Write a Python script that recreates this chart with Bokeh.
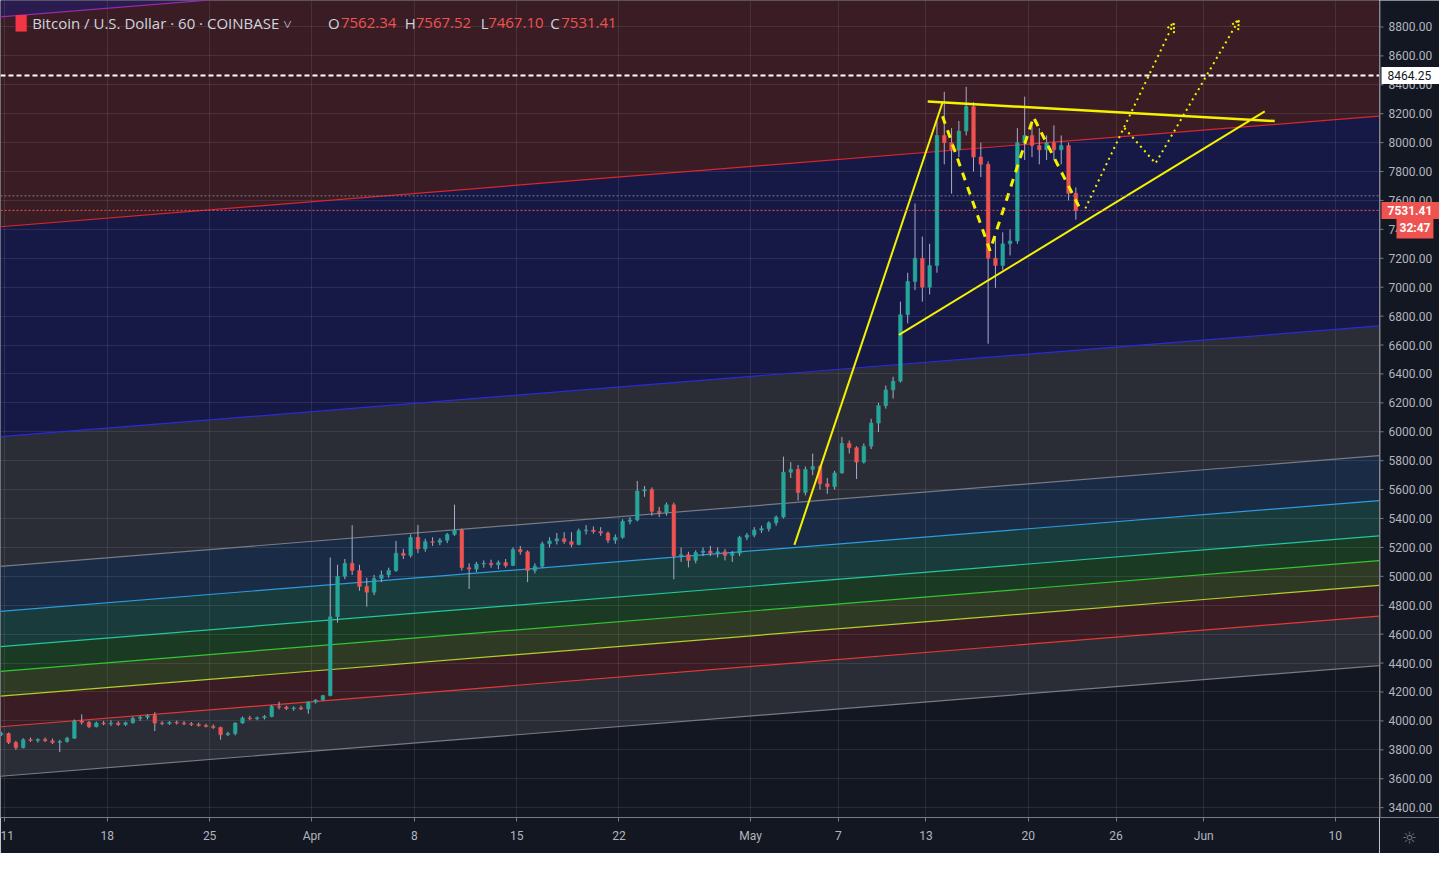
import numpy as np
from bokeh.plotting import figure
from bokeh.layouts import row
from bokeh.models import (Range1d, FixedTicker, Label, Span, ColumnDataSource, Arrow, OpenHead)
from bokeh.core.properties import value
from bokeh.embed import file_html
from bokeh.resources import INLINE

# ---------------- data (x = days since 2019-03-11 00:00 UTC) ----------------
bar_days = 0.5            # 12h candles
first_bar_center = -0.25  # first candle centre

candle_open = [
    3905, 3912, 3850, 3815, 3870, 3865, 3872, 3862, 3850, 3858,
    3880, 4000, 3990, 3960, 3985, 3980, 3985, 3975, 3988, 4018,
    4025, 4038, 3985, 3982, 3990, 3985, 3980, 3975, 3968, 3962,
    3955, 3905, 3912, 3985, 4020, 4015, 4022, 4030, 4100, 4095,
    4085, 4090, 4082, 4130, 4145, 4175, 4720, 5000, 5090, 5040,
    4930, 4890, 4985, 5010, 5040, 5160, 5145, 5270, 5190, 5240,
    5235, 5250, 5290, 5320, 5060, 5050, 5085, 5090, 5080, 5095,
    5075, 5185, 5170, 5040, 5070, 5225, 5245, 5260, 5240, 5220,
    5315, 5320, 5310, 5300, 5250, 5270, 5380, 5390, 5590, 5600,
    5450, 5440, 5495, 5140, 5150, 5110, 5165, 5175, 5160, 5170,
    5145, 5160, 5270, 5285, 5320, 5330, 5370, 5410, 5720, 5740,
    5580, 5740, 5760, 5640, 5620, 5715, 5920, 5890, 5790, 5900,
    6060, 6180, 6290, 6350, 6810, 7040, 7200, 7000, 7150, 8050,
    8000, 7950, 8080, 8250, 7900, 7850, 7200, 7150, 7300, 7320,
    8000, 8050, 7980, 7950, 8000, 7950, 7980, 7650]
candle_high = [
    3925, 3920, 3862, 3880, 3885, 3880, 3885, 3878, 3870, 3890,
    4010, 4045, 4000, 3995, 4000, 4005, 3998, 3995, 4030, 4035,
    4045, 4060, 3998, 3998, 4002, 3998, 3992, 3988, 3980, 3975,
    3960, 3925, 3990, 4030, 4035, 4030, 4040, 4110, 4133, 4105,
    4100, 4105, 4135, 4150, 4180, 5130, 5080, 5120, 5354, 5080,
    4990, 5010, 5040, 5060, 5245, 5190, 5290, 5355, 5260, 5270,
    5265, 5300, 5496, 5330, 5090, 5100, 5110, 5115, 5110, 5120,
    5200, 5210, 5180, 5090, 5240, 5270, 5300, 5305, 5305, 5330,
    5354, 5345, 5340, 5310, 5290, 5395, 5410, 5660, 5625, 5615,
    5480, 5510, 5510, 5200, 5170, 5180, 5200, 5210, 5200, 5190,
    5175, 5280, 5300, 5340, 5350, 5380, 5420, 5828, 5790, 5770,
    5760, 5849, 5770, 5680, 5730, 5964, 5940, 5900, 5920, 6090,
    6200, 6320, 6380, 6900, 7100, 7579, 7350, 7300, 8150, 8352,
    8100, 8150, 8386, 8280, 8000, 7870, 7350, 7380, 7400, 8100,
    8318, 8150, 8100, 8050, 8120, 8050, 8000, 7690]
candle_low = [
    3895, 3840, 3800, 3810, 3855, 3850, 3855, 3840, 3785, 3850,
    3875, 3975, 3950, 3955, 3970, 3965, 3965, 3965, 3980, 4000,
    4010, 3930, 3970, 3972, 3975, 3970, 3965, 3960, 3955, 3945,
    3870, 3895, 3900, 3980, 4005, 4005, 4010, 4025, 4080, 4075,
    4070, 4075, 4050, 4120, 4140, 4170, 4680, 4980, 5010, 4900,
    4790, 4870, 4960, 4990, 5030, 5120, 5130, 5160, 5170, 5210,
    5215, 5230, 5280, 5040, 4913, 5030, 5060, 5060, 5050, 5060,
    5070, 5150, 4960, 5020, 5060, 5200, 5220, 5225, 5200, 5215,
    5290, 5295, 5280, 5230, 5225, 5260, 5360, 5380, 5550, 5420,
    5410, 5420, 4980, 5100, 5062, 5090, 5140, 5140, 5130, 5110,
    5100, 5140, 5250, 5270, 5300, 5310, 5350, 5400, 5680, 5524,
    5560, 5700, 5600, 5571, 5600, 5710, 5850, 5673, 5780, 5880,
    5998, 6160, 6230, 6340, 6750, 6980, 6900, 6950, 7100, 7850,
    7647, 7900, 8050, 7800, 7762, 6609, 6996, 7120, 7220, 7300,
    7880, 7900, 7850, 7880, 7880, 7850, 7600, 7467]
candle_close = [
    3912, 3850, 3815, 3870, 3865, 3872, 3862, 3850, 3858, 3880,
    4000, 3990, 3960, 3985, 3980, 3985, 3975, 3988, 4018, 4025,
    4038, 3985, 3982, 3990, 3985, 3980, 3975, 3968, 3962, 3955,
    3905, 3912, 3985, 4020, 4015, 4022, 4030, 4100, 4095, 4085,
    4090, 4082, 4130, 4145, 4175, 4720, 5000, 5090, 5040, 4930,
    4890, 4985, 5010, 5040, 5160, 5145, 5270, 5190, 5240, 5235,
    5250, 5290, 5320, 5060, 5050, 5085, 5090, 5080, 5095, 5075,
    5185, 5170, 5040, 5070, 5225, 5245, 5260, 5240, 5220, 5315,
    5320, 5310, 5300, 5250, 5270, 5380, 5390, 5590, 5600, 5450,
    5440, 5495, 5140, 5150, 5110, 5165, 5175, 5160, 5170, 5145,
    5160, 5270, 5285, 5320, 5330, 5370, 5410, 5720, 5740, 5580,
    5740, 5760, 5640, 5620, 5715, 5920, 5890, 5790, 5900, 6060,
    6180, 6290, 6350, 6810, 7040, 7200, 7000, 7150, 8050, 8000,
    7950, 8080, 8250, 7900, 7850, 7200, 7150, 7300, 7320, 8000,
    8050, 7980, 7950, 8000, 7950, 7980, 7650, 7531.41]

# Fibonacci channel (levels, colours)
fib_levels = [0, 0.236, 0.382, 0.5, 0.618, 0.786, 1, 1.618, 2.618, 3.618, 4.236]
fib_line_colors = ["#787b86", "#e53935", "#b3d02a", "#33c733", "#22c99b",
                   "#2e9be0", "#787b86", "#2b2bd6", "#d9262f", "#9c27b0", "#e91e63"]
fib_fill_colors = ["#2a2d36", "#391c24", "#2e3a24", "#1a3a24", "#193b3c",
                   "#1a2b45", "#2a2d36", "#161945", "#391c24", "#2b1c4f"]
channel_day = [-0.304, 94.02]
channel_base_price = [3617, 4383]
channel_width = 1452

# axes
xtick_days = [0, 7, 14, 21, 28, 35, 42, 51, 57, 63, 70, 76, 82, 91]
xtick_labels = ["11", "18", "25", "Apr", "8", "15", "22", "May", "7", "13",
                "20", "26", "Jun", "10"]
ytick_prices = list(range(3400, 9000, 200))

# price lines
hline_price = 8464.25
last_price = 7531.41
prev_close_price = 7632
countdown_text = "32:47"
ohlc_open, ohlc_high, ohlc_low, ohlc_close = "7562.34", "7567.52", "7467.10", "7531.41"
symbol_title = "Bitcoin / U.S. Dollar · 60 · COINBASE ˅"

# drawings (day, price)
leg_day = [54.0, 64.13];        leg_price = [5218, 8278]
upper_day = [63.12, 86.85];     upper_price = [8284, 8149]
lower_day = [61.15, 86.17];     lower_price = [6670, 8216]
zigzag_day = [64.13, 67.38, 70.35, 73.6]
zigzag_price = [8183, 7253, 8176, 7531]
path_a_day = [73.9, 79.95];     path_a_price = [7545, 8827]
path_b_day = [76.57, 78.7, 84.4]; path_b_price = [8101, 7857, 8848]

# ---------------- figure ----------------
FONT = "Roboto"
BG = "#131722"
AXC = "#787b86"
x_lo, x_hi = -0.304, 94.02
y_lo, y_hi = 3331.8, 8983.2
H = 853
BOTTOM = 36
SCALE_W = 60
yr = Range1d(y_lo, y_hi)

p = figure(width=1439 - SCALE_W, height=H, x_range=Range1d(x_lo, x_hi), y_range=yr,
           y_axis_location=None, output_backend="svg", toolbar_location=None,
           min_border_left=0, min_border_top=0, min_border_right=0, min_border_bottom=BOTTOM,
           background_fill_color=BG, border_fill_color=BG, outline_line_color=None)

# channel fills and lines
xs_b, ys_b = [], []
for i in range(len(fib_levels) - 1):
    a, b = fib_levels[i], fib_levels[i + 1]
    xs_b.append([channel_day[0], channel_day[1], channel_day[1], channel_day[0]])
    ys_b.append([channel_base_price[0] + a * channel_width, channel_base_price[1] + a * channel_width,
                 channel_base_price[1] + b * channel_width, channel_base_price[0] + b * channel_width])
p.patches(xs_b, ys_b, fill_color=fib_fill_colors, line_color=None, level="image")
xs_l = [channel_day for _ in fib_levels]
ys_l = [[channel_base_price[0] + L * channel_width, channel_base_price[1] + L * channel_width]
        for L in fib_levels]
p.multi_line(xs_l, ys_l, line_color=fib_line_colors, line_width=1.2)

# grid
p.xgrid.ticker = FixedTicker(ticks=xtick_days)
p.ygrid.ticker = FixedTicker(ticks=ytick_prices)
p.grid.grid_line_color = "#ffffff"
p.grid.grid_line_alpha = 0.09
p.grid.level = "underlay"

# x axis
p.xaxis.ticker = FixedTicker(ticks=xtick_days)
p.xaxis.major_label_overrides = dict(zip(xtick_days, xtick_labels))
for ax in (p.xaxis,):
    ax.axis_line_color = AXC
    ax.major_tick_line_color = AXC
    ax.major_tick_in = 0
    ax.major_tick_out = 4
    ax.minor_tick_line_color = None
    ax.major_label_text_color = "#b2b5be"
    ax.major_label_text_font = FONT
    ax.major_label_text_font_size = "12px"
    ax.major_label_standoff = 7

# previous close & last price lines
p.add_layout(Span(location=prev_close_price, dimension="width", line_color=AXC,
                  line_width=1, line_dash="2 2"))
p.add_layout(Span(location=last_price, dimension="width", line_color="#ef5350",
                  line_width=1, line_dash="2 2"))

# candles
n = len(candle_close)
xc = first_bar_center + bar_days * np.arange(n)
up = [c >= o for o, c in zip(candle_open, candle_close)]
src = ColumnDataSource(dict(
    x=xc, high=candle_high, low=candle_low,
    top=[max(o, c) for o, c in zip(candle_open, candle_close)],
    bottom=[min(o, c) for o, c in zip(candle_open, candle_close)],
    color=["#26a69a" if u else "#ef5350" for u in up]))
p.segment(x0="x", y0="low", x1="x", y1="high", source=src, line_color="#a9abc8", line_width=1)
p.vbar(x="x", width=bar_days * 0.5, top="top", bottom="bottom", source=src,
       fill_color="color", line_color="color", line_width=0.5)

# horizontal line drawing
p.add_layout(Span(location=hline_price, dimension="width", line_color="#ffffff",
                  line_width=2, line_dash="5 3"))

# yellow drawings
YEL = "#f5f200"
p.line(leg_day, leg_price, line_color=YEL, line_width=2)
p.line(upper_day, upper_price, line_color=YEL, line_width=2.5)
p.line(lower_day, lower_price, line_color=YEL, line_width=2)
p.line(zigzag_day, zigzag_price, line_color=YEL, line_width=3, line_dash="8 7")
p.line(path_a_day, path_a_price, line_color=YEL, line_width=2, line_dash="2 4")
p.line(path_b_day, path_b_price, line_color=YEL, line_width=2, line_dash="2 4")
for dd, pp in ((path_a_day, path_a_price), (path_b_day, path_b_price)):
    p.add_layout(Arrow(end=OpenHead(size=9, line_color=YEL, line_width=2, line_dash="2 2"),
                       x_start=dd[-2], y_start=pp[-2], x_end=dd[-1], y_end=pp[-1],
                       line_alpha=0))

# title
title_y = 8826
def lab(x, text, color, size="15px", font="Open Sans"):
    p.add_layout(Label(x=x, y=title_y, text=text, text_color=color, text_font=font,
                       text_font_size=size, text_baseline="middle"))
lab(0.72, "\u2588", "#f23645", size="14px", font="DejaVu Sans")
lab(1.86, symbol_title, "#d1d4dc")
lab(22.1, "O", "#d1d4dc"); lab(22.98, ohlc_open, "#ef5350")
lab(27.35, "H", "#d1d4dc"); lab(28.1, ohlc_high, "#ef5350")
lab(32.55, "L", "#d1d4dc"); lab(33.05, ohlc_low, "#ef5350")
lab(37.3, "C", "#d1d4dc"); lab(38.05, ohlc_close, "#ef5350")

# ---------------- price scale (right) ----------------
s = figure(width=SCALE_W, height=H, x_range=Range1d(0, SCALE_W), y_range=yr,
           y_axis_location=None, output_backend="svg", toolbar_location=None,
           min_border_left=0, min_border_top=0, min_border_right=0, min_border_bottom=BOTTOM,
           background_fill_color=BG, border_fill_color=BG, outline_line_color=None)
s.grid.visible = False
s.add_layout(Span(location=0.5, dimension="height", line_color=AXC, line_width=1))
s.segment(x0=[0] * len(ytick_prices), y0=ytick_prices, x1=[4] * len(ytick_prices),
          y1=ytick_prices, line_color=AXC, line_width=1)
s.text(x=[9] * len(ytick_prices), y=ytick_prices, text=[f"{v:.2f}" for v in ytick_prices],
       text_color="#b2b5be", text_font=value(FONT), text_font_size="12px",
       text_baseline="middle", text_align="left")
# price boxes
s.rect(x=[SCALE_W / 2 + 1], y=[hline_price], width=SCALE_W - 2, height=17,
       height_units="screen", fill_color="#ffffff", line_color=None)
s.text(x=[8], y=[hline_price], text=["8464.25"], text_color="#131722", text_font=value(FONT),
       text_font_size="12px", text_baseline="middle", text_align="left")
s.rect(x=[SCALE_W / 2 + 1], y=[last_price], width=SCALE_W - 2, height=17,
       height_units="screen", fill_color="#ef5350", line_color=None)
s.text(x=[8], y=[last_price], text=[ohlc_close], text_color="#ffffff", text_font=value(FONT),
       text_font_size="12px", text_font_style="bold", text_baseline="middle", text_align="left")
s.add_layout(Label(x=17, y=last_price, y_offset=-18, text=countdown_text, text_color="#ffffff",
                   background_fill_color="#ef5350", text_font=FONT, text_font_size="12px",
                   text_font_style="bold", text_baseline="middle", padding=3))
# gear icon under the scale
s.xaxis.ticker = FixedTicker(ticks=[SCALE_W / 2])
s.xaxis.major_label_overrides = {SCALE_W / 2: "\u263c"}
s.xaxis.axis_line_color = AXC
s.xaxis.major_tick_line_color = None
s.xaxis.minor_tick_line_color = None
s.xaxis.major_label_text_color = AXC
s.xaxis.major_label_text_font = "DejaVu Sans"
s.xaxis.major_label_text_font_size = "17px"
s.xaxis.major_label_standoff = 4

layout = row(p, s, spacing=0)
open("out.html", "w").write(file_html(layout, INLINE))
